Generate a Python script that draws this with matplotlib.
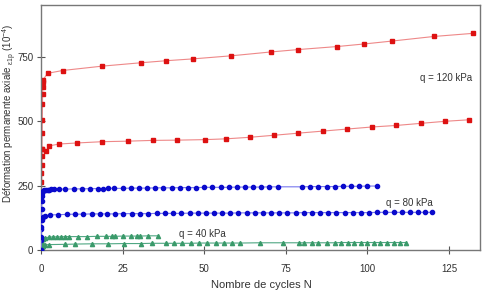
import matplotlib
matplotlib.use("Agg")
import matplotlib.pyplot as plt

plt.rcParams['font.family'] = ['Liberation Sans', 'DejaVu Sans']
plt.rcParams['mathtext.fontset'] = 'custom'
plt.rcParams['mathtext.rm'] = 'Liberation Sans'
plt.rcParams['mathtext.it'] = 'Liberation Sans:italic'

# q = 120 kPa, sample A (upper red)
n_r1 = [0, 0.3, 0.35, 0.4, 0.45, 0.5, 0.55, 0.6, 0.65, 2.0, 6.6, 18.8, 30.6, 38.4, 46.5, 58.3,
        70.5, 78.6, 90.8, 99.1, 107.4, 120.4, 132.3]
v_r1 = [0, 390, 452, 506, 567, 605, 631, 650, 660, 685, 696, 713, 726, 734, 741, 753,
        768, 777, 789, 799, 810, 828, 840]
# q = 120 kPa, sample B (lower red)
n_r2 = [0, 0.1, 0.15, 0.2, 0.25, 0.3, 1.5, 2.6, 5.6, 11.0, 18.8, 26.6, 34.2, 41.8, 50.3, 56.6,
        63.9, 71.5, 78.8, 86.3, 93.8, 101.4, 108.9, 116.3, 123.8, 131.2]
v_r2 = [0, 265, 300, 330, 365, 390, 384, 404, 411, 415, 420, 422, 425, 426, 428, 431,
        437, 445, 453, 461, 469, 477, 483, 491, 499, 505]
# q = 80 kPa, sample A (upper blue)
n_b1 = [0, 0.05, 0.1, 0.15, 0.2, 0.25, 0.3, 0.4, 0.6, 1.0, 1.5, 2.0, 2.5, 3.0, 4.0, 5.5, 7.5,
        10, 12.5, 15, 17.5, 19, 20.5, 22.5, 25, 27.5, 30, 32.5, 35, 37.5, 40, 42.5, 45, 47.5,
        50, 52.5, 55, 57.5, 60, 62.5, 65, 67.5, 70, 72.5, 80, 82.5, 85, 87.5, 90, 92.5, 95,
        97.5, 100, 103]
v_b1 = [0, 40, 80, 120, 160, 190, 210, 222, 228, 231, 232, 233, 234, 235, 235, 236, 236,
        237, 237, 238, 238, 238, 239, 239, 239, 240, 240, 240, 241, 241, 241, 242, 242, 242,
        243, 243, 243, 243, 244, 244, 244, 244, 245, 245, 245, 246, 246, 246, 246, 247, 247,
        247, 248, 248]
# q = 80 kPa, sample B (lower blue)
n_b2 = [0, 0.05, 0.1, 0.2, 0.3, 0.5, 1.2, 2.8, 5.1, 7.9, 10.4, 13.0, 15.5, 18.1, 20.1, 22.7,
        25.2, 27.8, 30.3, 32.9, 35.4, 38, 40.5, 43, 45.5, 48, 50.5, 53, 55.5, 58, 60.5, 63,
        65.5, 68, 70.5, 73, 75.5, 78, 80.5, 83, 85.5, 88, 90.5, 93, 95.5, 98, 100.5, 103,
        105.5, 108, 110.5, 113, 115.5, 117.5, 119.7]
v_b2 = [0, 50, 90, 115, 125, 129, 132, 136, 137, 138, 139, 139, 140, 140, 140, 140, 141,
        141, 141, 141, 142, 142, 142, 142, 143, 143, 143, 143, 143, 143, 144, 144, 144, 144,
        144, 144, 144, 144, 145, 145, 145, 145, 145, 145, 145, 145, 145, 146, 146, 146, 146,
        146, 146, 146, 146]
# q = 40 kPa, sample A (upper green)
n_g1 = [0, 0.3, 0.6, 1.2, 2.5, 3.8, 5.0, 6.1, 7.4, 8.6, 11.4, 14.2, 17.1, 19.9, 21.7, 22.7,
        25.0, 27.6, 29.3, 30.3, 32.9, 35.9]
v_g1 = [0, 30, 42, 47, 50, 51, 51, 51, 52, 52, 52, 52, 53, 53, 53, 53, 54, 54, 54, 54,
        55, 55]
# q = 40 kPa, sample B (lower green)
n_g2 = [0, 0.3, 0.6, 1.2, 2.5, 7.5, 10.5, 15.5, 20.5, 25.5, 30.5, 33.9, 38.3, 40.7, 43.2,
        45.9, 48.4, 51, 53.5, 56, 58.5, 61, 67, 74, 79, 80.5, 83, 85, 87.5, 90, 92, 94, 96,
        98, 100, 102, 104, 106, 108, 110, 111.8]
v_g2 = [0, 12, 17, 20, 21, 22, 23, 24, 24, 25, 25, 26, 26, 26, 26, 26, 27, 27, 27, 27, 27,
        27, 28, 28, 28, 28, 28, 28, 28, 28, 29, 29, 29, 29, 29, 29, 29, 29, 29, 29, 29]

x_ticks = [0, 25, 50, 75, 100, 125]
y_ticks = [0, 250, 500, 750]
labels = ["q = 120 kPa", "q = 80 kPa", "q = 40 kPa"]
label_pos = [(124, 667), (113, 183), (49.4, 61)]

fig = plt.figure(figsize=(4.84, 2.93), dpi=100)
ax = fig.add_axes([41/484, 43/293, 439/484, 245/293])

red_line, red_mk = '#ee8888', '#dd1111'
blue_line, blue_mk = '#7777ee', '#0a0acc'
green_line, green_mk = '#4fa783', '#3a9a6a'

ax.plot(n_r1, v_r1, '-', color=red_line, lw=0.8, marker='s', ms=3.4, mfc=red_mk, mec=red_mk, zorder=2)
ax.plot(n_r2, v_r2, '-', color=red_line, lw=0.8, marker='s', ms=3.4, mfc=red_mk, mec=red_mk, zorder=2)
ax.plot(n_g1, v_g1, '-', color=green_line, lw=0.8, marker='^', ms=3.0, mfc=green_mk, mec=green_mk, zorder=3)
ax.plot(n_g2, v_g2, '-', color=green_line, lw=0.8, marker='^', ms=3.0, mfc=green_mk, mec=green_mk, zorder=3)
ax.plot(n_b1, v_b1, '-', color=blue_line, lw=0.8, marker='o', ms=3.0, mfc=blue_mk, mec=blue_mk, zorder=4)
ax.plot(n_b2, v_b2, '-', color=blue_line, lw=0.8, marker='o', ms=3.0, mfc=blue_mk, mec=blue_mk, zorder=4)

for txt, (xx, yy) in zip(labels, label_pos):
    ax.text(xx, yy, txt, fontsize=7, color='#333333', ha='center', va='center')

ax.set_xlim(0, 134.5)
ax.set_ylim(0, 950)
ax.set_xticks(x_ticks)
ax.set_yticks(y_ticks)
ax.tick_params(direction='inout', length=6, width=0.8, colors='#555555', labelsize=7,
               labelcolor='#333333')
ax.tick_params(axis='y', pad=2.5)
ax.tick_params(axis='x', pad=7)
for s in ax.spines.values():
    s.set_color('#777777')
    s.set_linewidth(1.0)

fig.text(261/484, 1 - 285.5/293, 'Nombre de cycles N', fontsize=8, color='#333333',
         ha='center', va='center')
fig.text(9.5/484, 1 - 113/293,
         r'Déformation permanente axiale $_{\mathrm{ε1p}}$ (10$^{-4}$)',
         rotation=90, fontsize=7, color='#333333', ha='center', va='center')

fig.savefig('out.png', dpi=100)
